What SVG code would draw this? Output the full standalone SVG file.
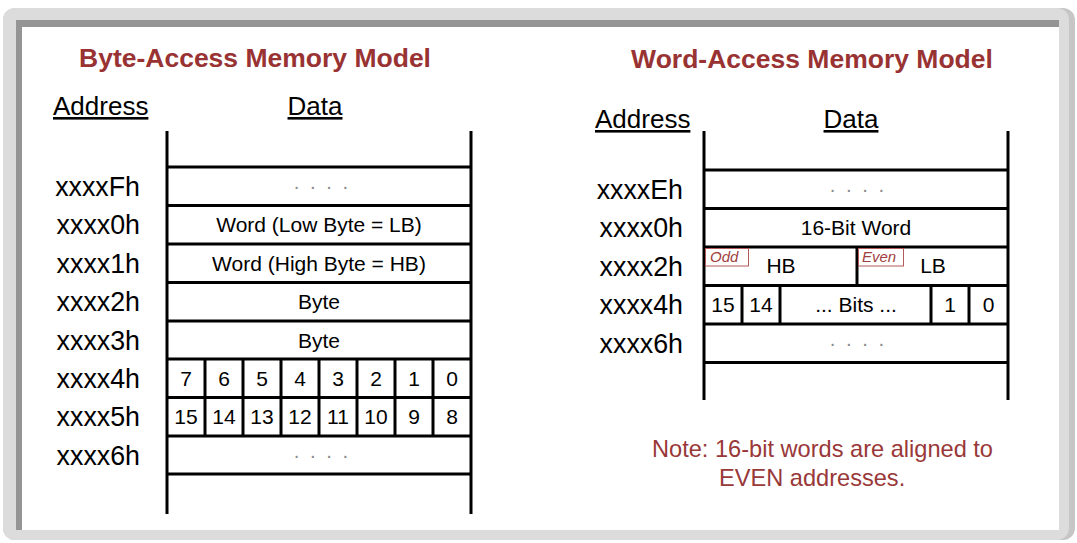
<svg xmlns="http://www.w3.org/2000/svg" width="1077" height="543" viewBox="0 0 1077 543">
<style>
text{font-family:"Liberation Sans",Arial,sans-serif;fill:#000}
.title{font-size:26.5px;font-weight:bold;fill:#993333;text-anchor:middle}
.hdr{font-size:26px;text-decoration:underline}
.addr{font-size:26.8px;text-anchor:end}
.cell{font-size:21px;text-anchor:middle}
.dots{font-size:20px;fill:#8a8a8a;text-anchor:middle;letter-spacing:2px}
.tag{font-size:15px;font-style:italic;fill:#a04040}
.tagbox{fill:none;stroke:#b35a5a;stroke-width:1}
.note{font-size:23.6px;fill:#993838}
.ln{stroke:#000;stroke-width:3;fill:none}
</style>
<rect x="0" y="0" width="1077" height="543" fill="#ffffff"/>
<g id="frame">
<rect x="3" y="8" width="1072" height="532" rx="12" fill="#c6c6c6"/>
<rect x="3" y="8" width="1066" height="532" rx="12" fill="#dcdcdc"/>
<rect x="16" y="20" width="1043" height="510" fill="#959595"/>
<rect x="22" y="27" width="1037" height="503" fill="#ffffff"/>
</g>
<g id="byte-model">
<text class="title" x="255" y="67">Byte-Access Memory Model</text>
<text class="hdr" x="53" y="115">Address</text>
<text class="hdr" x="315" y="115" text-anchor="middle">Data</text>
<g id="byte-lines">
<path class="ln" d="M167,131V514M471,131V514"/>
<path class="ln" d="M167,167H471M167,205.5H471M167,244H471M167,282.5H471M167,321H471M167,359H471M167,397.5H471M167,436H471M167,474H471"/>
<path class="ln" d="M205,359V436M243,359V436M281,359V436M319,359V436M357,359V436M395,359V436M433,359V436"/>
</g>
<g id="byte-addresses">
<text class="addr" x="140" y="195.5">xxxxFh</text>
<text class="addr" x="140" y="234">xxxx0h</text>
<text class="addr" x="140" y="272.5">xxxx1h</text>
<text class="addr" x="140" y="311">xxxx2h</text>
<text class="addr" x="140" y="349.5">xxxx3h</text>
<text class="addr" x="140" y="388">xxxx4h</text>
<text class="addr" x="140" y="426">xxxx5h</text>
<text class="addr" x="140" y="464.5">xxxx6h</text>
</g>
<g id="byte-cells">
<text class="dots" x="322" y="193">· · · ·</text>
<text class="cell" x="319" y="232">Word (Low Byte = LB)</text>
<text class="cell" x="319" y="270.5">Word (High Byte = HB)</text>
<text class="cell" x="319" y="309">Byte</text>
<text class="cell" x="319" y="347.5">Byte</text>
<text class="cell" x="186" y="386">7</text>
<text class="cell" x="224" y="386">6</text>
<text class="cell" x="262" y="386">5</text>
<text class="cell" x="300" y="386">4</text>
<text class="cell" x="338" y="386">3</text>
<text class="cell" x="376" y="386">2</text>
<text class="cell" x="414" y="386">1</text>
<text class="cell" x="452" y="386">0</text>
<text class="cell" x="186" y="424">15</text>
<text class="cell" x="224" y="424">14</text>
<text class="cell" x="262" y="424">13</text>
<text class="cell" x="300" y="424">12</text>
<text class="cell" x="338" y="424">11</text>
<text class="cell" x="376" y="424">10</text>
<text class="cell" x="414" y="424">9</text>
<text class="cell" x="452" y="424">8</text>
<text class="dots" x="322" y="462">· · · ·</text>
</g>
</g>
<g id="word-model">
<text class="title" x="812" y="68">Word-Access Memory Model</text>
<text class="hdr" x="595" y="128">Address</text>
<text class="hdr" x="851" y="128" text-anchor="middle">Data</text>
<g id="word-lines">
<path class="ln" d="M704,131V400M1008,131V400"/>
<path class="ln" d="M704,170H1008M704,208.5H1008M704,247H1008M704,285.5H1008M704,324H1008M704,362.5H1008"/>
<path class="ln" d="M857,247V285.5M742,285.5V324M780,285.5V324M931,285.5V324M969,285.5V324"/>
</g>
<g id="word-addresses">
<text class="addr" x="683" y="198.5">xxxxEh</text>
<text class="addr" x="683" y="237">xxxx0h</text>
<text class="addr" x="683" y="275.5">xxxx2h</text>
<text class="addr" x="683" y="314">xxxx4h</text>
<text class="addr" x="683" y="352.5">xxxx6h</text>
</g>
<g id="word-cells">
<text class="dots" x="858" y="196">· · · ·</text>
<text class="cell" x="856" y="235">16-Bit Word</text>
<rect class="tagbox" x="705.5" y="248.5" width="43" height="17.5"/>
<text class="tag" x="710" y="262">Odd</text>
<text class="cell" x="781" y="272.5">HB</text>
<rect class="tagbox" x="858.5" y="248.5" width="45" height="17.5"/>
<text class="tag" x="862" y="262">Even</text>
<text class="cell" x="933" y="272.5">LB</text>
<text class="cell" x="723" y="312">15</text>
<text class="cell" x="761" y="312">14</text>
<text class="cell" x="856" y="312">... Bits ...</text>
<text class="cell" x="950" y="312">1</text>
<text class="cell" x="988.5" y="312">0</text>
<text class="dots" x="858" y="350">· · · ·</text>
</g>
<g id="note">
<text class="note" x="652" y="457">Note: 16-bit words are aligned to</text>
<text class="note" x="719" y="486">EVEN addresses.</text>
</g>
</g>
</svg>
